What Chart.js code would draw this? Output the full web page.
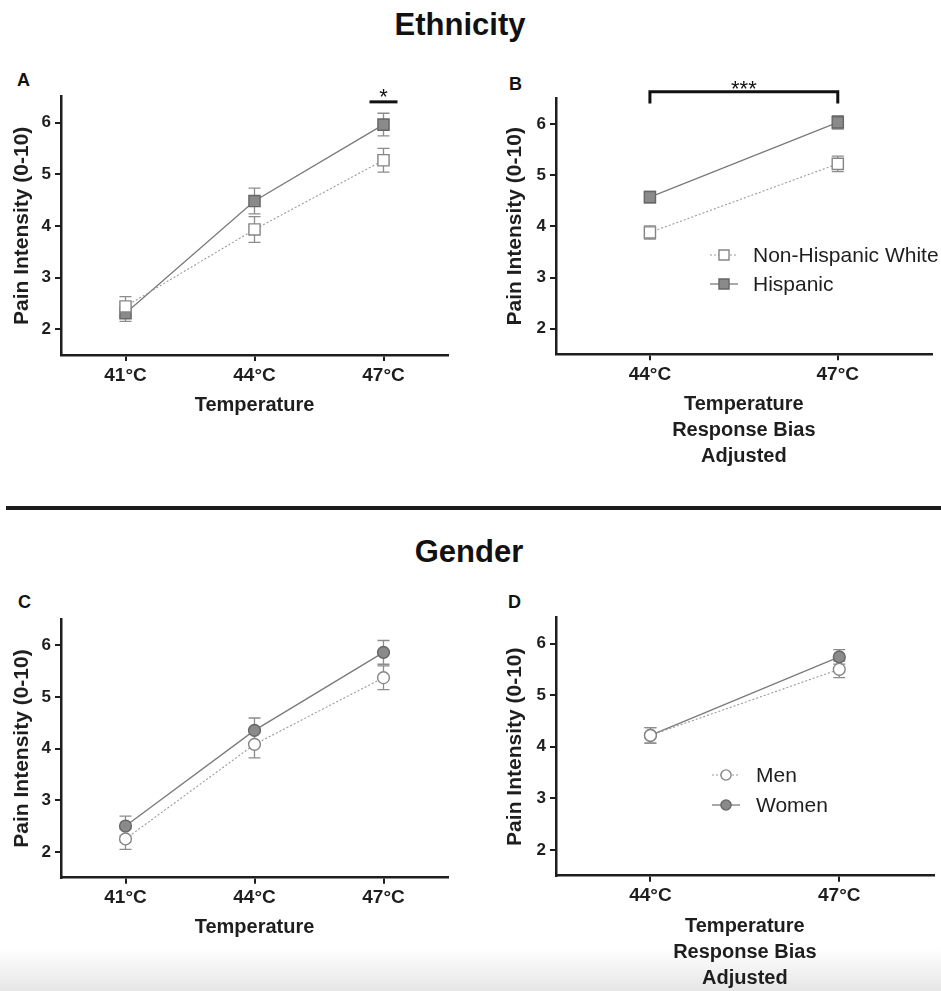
<!DOCTYPE html>
<html>
<head>
<meta charset="utf-8">
<script src="https://cdn.jsdelivr.net/npm/chart.js@4.4.1/dist/chart.umd.min.js"></script>
<style>
  html, body { margin: 0; padding: 0; background: #ffffff; }
  body {
    width: 941px; height: 991px; position: relative; overflow: hidden;
    font-family: "Liberation Sans", Arial, Helvetica, sans-serif; color: #111;
  }
  .shade {
    position: absolute; left: 0; top: 948px; width: 941px; height: 43px;
    background: linear-gradient(to bottom, rgba(230,230,230,0), rgba(230,230,230,1));
  }
  canvas { position: absolute; }
  .heading {
    position: absolute; font-weight: bold; font-size: 31px; line-height: 31px;
    white-space: nowrap; transform: translateX(-50%);
  }
  .letter { position: absolute; font-weight: bold; font-size: 18px; line-height: 18px; }
  .rule { position: absolute; left: 6px; top: 506px; width: 935px; height: 4px; background: #1c1c1c; }
</style>
</head>
<body>
<div class="shade"></div>
<div class="heading" style="left:460px; top:9px">Ethnicity</div>
<div class="rule"></div>
<div class="heading" style="left:469px; top:536px">Gender</div>
<div class="letter" style="left:17px; top:71px">A</div>
<div class="letter" style="left:509px; top:75px">B</div>
<div class="letter" style="left:18px; top:593px">C</div>
<div class="letter" style="left:508px; top:593px">D</div>

<canvas id="panelA" width="470" height="360" style="left:0; top:60px"></canvas>
<canvas id="panelB" width="471" height="420" style="left:470px; top:60px"></canvas>
<canvas id="panelC" width="470" height="370" style="left:0; top:580px"></canvas>
<canvas id="panelD" width="471" height="411" style="left:470px; top:580px"></canvas>

<script>
// Temperature categories
const tempsAll = ['41°C', '44°C', '47°C'];
const tempsAdjusted = ['44°C', '47°C'];
const yTickValues = [2, 3, 4, 5, 6];

// Ethnicity: mean pain ratings and SEM
const nhwRaw = [2.44, 3.93, 5.27];
const nhwRawSem = [0.19, 0.25, 0.23];
const hispRaw = [2.31, 4.48, 5.96];
const hispRawSem = [0.16, 0.25, 0.22];

// Ethnicity: response-bias adjusted
const nhwAdj = [3.88, 5.22];
const nhwAdjSem = [0.13, 0.15];
const hispAdj = [4.57, 6.03];
const hispAdjSem = [0.11, 0.13];

// Gender: mean pain ratings and SEM
const menRaw = [2.25, 4.08, 5.37];
const menRawSem = [0.20, 0.26, 0.23];
const womenRaw = [2.50, 4.35, 5.86];
const womenRawSem = [0.19, 0.24, 0.23];

// Gender: response-bias adjusted
const menAdj = [4.22, 5.50];
const menAdjSem = [0.15, 0.16];
const womenAdj = [4.22, 5.74];
const womenAdjSem = [0.15, 0.14];

// Significance markers: category range, bar level, bracket foot level, stars
const sigEthnicityRaw = [{ from: 2, to: 2, level: 6.40, foot: null, text: '*' }];
const sigEthnicityAdj = [{ from: 0, to: 1, level: 6.63, foot: 6.40, text: '***' }];

const FONT = '"Liberation Sans", Arial, Helvetica, sans-serif';
const INK = '#1e1e1e';

const OPEN = {
  borderColor: '#9a9a9a', borderWidth: 1.1, borderDash: [2, 2],
  pointBackgroundColor: '#ffffff', pointBorderColor: '#858585', pointBorderWidth: 1.4
};
const FILLED = {
  borderColor: '#7a7a7a', borderWidth: 1.3, borderDash: [],
  pointBackgroundColor: '#8a8a8a', pointBorderColor: '#666666', pointBorderWidth: 1.4
};

function series(label, data, sem, look, shape) {
  const r = shape === 'rect' ? 7.9 : 5.9;
  return Object.assign({
    label, data, sem,
    pointStyle: shape, pointRadius: r, pointHoverRadius: r,
    fill: false, tension: 0
  }, look);
}

// Vertical SEM bars with caps, drawn beneath the markers
const errorBars = {
  id: 'errorBars',
  beforeDatasetsDraw(chart) {
    const ctx = chart.ctx, ys = chart.scales.y;
    ctx.save();
    ctx.strokeStyle = '#8c8c8c';
    ctx.lineWidth = 1.3;
    chart.data.datasets.forEach((ds, i) => {
      const meta = chart.getDatasetMeta(i);
      meta.data.forEach((pt, j) => {
        const v = ds.data[j], e = ds.sem[j];
        const top = ys.getPixelForValue(v + e), bot = ys.getPixelForValue(v - e);
        const x = pt.x;
        ctx.beginPath();
        ctx.moveTo(x, top); ctx.lineTo(x, bot);
        ctx.moveTo(x - 6, top); ctx.lineTo(x + 6, top);
        ctx.moveTo(x - 6, bot); ctx.lineTo(x + 6, bot);
        ctx.stroke();
      });
    });
    ctx.restore();
  }
};

// Significance bars / brackets with asterisks
const sigMarks = {
  id: 'sigMarks',
  afterDatasetsDraw(chart, args, opts) {
    const marks = opts.marks || [];
    const ctx = chart.ctx, xs = chart.scales.x, ys = chart.scales.y;
    ctx.save();
    ctx.strokeStyle = '#111';
    ctx.fillStyle = '#111';
    ctx.lineWidth = 3;
    marks.forEach(m => {
      let x1 = xs.getPixelForValue(m.from), x2 = xs.getPixelForValue(m.to);
      if (m.from === m.to) { x1 -= 14; x2 += 14; }
      const yl = ys.getPixelForValue(m.level);
      ctx.beginPath();
      if (m.foot !== null) {
        const yf = ys.getPixelForValue(m.foot);
        ctx.moveTo(x1, yf); ctx.lineTo(x1, yl); ctx.lineTo(x2, yl); ctx.lineTo(x2, yf);
      } else {
        ctx.moveTo(x1, yl); ctx.lineTo(x2, yl);
      }
      ctx.stroke();
      ctx.font = '22px ' + FONT;
      ctx.textAlign = 'center';
      ctx.textBaseline = 'alphabetic';
      ctx.fillText(m.text, (x1 + x2) / 2, yl + (m.foot !== null ? 4 : 2));
    });
    ctx.restore();
  }
};

// Legend entries drawn as line sample + marker + label
const lineLegend = {
  id: 'lineLegend',
  afterDraw(chart, args, opts) {
    if (!opts.show) return;
    const ctx = chart.ctx, area = chart.chartArea;
    const x0 = area.left + opts.dx, y0 = area.top + opts.dy;
    chart.data.datasets.forEach((ds, i) => {
      const y = y0 + i * opts.rowGap;
      ctx.save();
      ctx.strokeStyle = ds.borderColor;
      ctx.lineWidth = ds.borderWidth;
      ctx.setLineDash(ds.borderDash || []);
      ctx.beginPath(); ctx.moveTo(x0 - 14, y); ctx.lineTo(x0 + 14, y); ctx.stroke();
      ctx.setLineDash([]);
      ctx.fillStyle = ds.pointBackgroundColor;
      ctx.strokeStyle = ds.pointBorderColor;
      ctx.lineWidth = ds.pointBorderWidth;
      Chart.helpers.drawPoint(ctx, {
        pointStyle: ds.pointStyle, radius: ds.pointRadius - 0.8,
        borderWidth: ds.pointBorderWidth, rotation: 0
      }, x0, y);
      ctx.fillStyle = INK;
      ctx.font = '21px ' + FONT;
      ctx.textAlign = 'left';
      ctx.textBaseline = 'middle';
      ctx.fillText(ds.label, x0 + opts.textGap, y + 1);
      ctx.restore();
    });
  }
};

function panel(id, labels, datasets, o) {
  return new Chart(document.getElementById(id), {
    type: 'line',
    data: { labels, datasets },
    options: {
      responsive: false, animation: false, devicePixelRatio: 1, events: [],
      layout: { padding: { top: o.padTop, right: o.padRight, left: 0, bottom: 0 } },
      plugins: {
        legend: { display: false },
        tooltip: { enabled: false },
        lineLegend: o.legend || { show: false },
        sigMarks: { marks: o.marks || [] }
      },
      scales: {
        x: {
          type: 'category', offset: true,
          grid: { display: true, drawOnChartArea: false, drawTicks: true, tickLength: 6,
                  color: INK, lineWidth: 2, offset: false },
          border: { display: true, color: INK, width: 2.5 },
          ticks: { color: INK, padding: 3, font: { family: FONT, weight: 'bold', size: 19 } },
          title: { display: true, text: o.xTitle, color: INK,
                   font: { family: FONT, weight: 'bold', size: 20, lineHeight: 1.3 },
                   padding: { top: 0, bottom: o.xTitlePad } },
          afterFit(s) { s.height = o.xHeight; }
        },
        y: {
          min: 1.5, max: 6.5,
          afterBuildTicks(s) { s.ticks = yTickValues.map(v => ({ value: v })); },
          grid: { display: true, drawOnChartArea: false, drawTicks: true, tickLength: 6,
                  color: INK, lineWidth: 2 },
          border: { display: true, color: INK, width: 2.5 },
          ticks: { color: INK, padding: 4, font: { family: FONT, weight: 'bold', size: 17 } },
          title: { display: true, text: 'Pain Intensity (0-10)', color: INK,
                   font: { family: FONT, weight: 'bold', size: 21, lineHeight: 1.2 },
                   padding: { top: o.yTitlePad, bottom: 0 } },
          afterFit(s) { s.width = o.yWidth; }
        }
      }
    },
    plugins: [errorBars, sigMarks, lineLegend]
  });
}

panel('panelA', tempsAll, [
  series('Non-Hispanic White', nhwRaw, nhwRawSem, OPEN, 'rect'),
  series('Hispanic', hispRaw, hispRawSem, FILLED, 'rect')
], { padTop: 36.7, padRight: 22, yWidth: 61, xHeight: 65, xTitle: 'Temperature',
     xTitlePad: 2, yTitlePad: 9.4, marks: sigEthnicityRaw });

panel('panelB', tempsAdjusted, [
  series('Non-Hispanic White', nhwAdj, nhwAdjSem, OPEN, 'rect'),
  series('Hispanic', hispAdj, hispAdjSem, FILLED, 'rect')
], { padTop: 38.3, padRight: 4, yWidth: 86, xHeight: 125.7,
     xTitle: ['Temperature', 'Response Bias', 'Adjusted'], xTitlePad: 11, yTitlePad: 32.4,
     marks: sigEthnicityAdj,
     legend: { show: true, dx: 168, dy: 156.7, rowGap: 29, textGap: 29 } });

panel('panelC', tempsAll, [
  series('Men', menRaw, menRawSem, OPEN, 'circle'),
  series('Women', womenRaw, womenRawSem, FILLED, 'circle')
], { padTop: 39.3, padRight: 22, yWidth: 61, xHeight: 72.3, xTitle: 'Temperature',
     xTitlePad: 10, yTitlePad: 10 });

panel('panelD', tempsAdjusted, [
  series('Men', menAdj, menAdjSem, OPEN, 'circle'),
  series('Women', womenAdj, womenAdjSem, FILLED, 'circle')
], { padTop: 37.7, padRight: 1, yWidth: 86, xHeight: 115.3,
     xTitle: ['Temperature', 'Response Bias', 'Adjusted'], xTitlePad: 0, yTitlePad: 32.4,
     legend: { show: true, dx: 170, dy: 157.3, rowGap: 30, textGap: 30 } });
</script>
</body>
</html>
